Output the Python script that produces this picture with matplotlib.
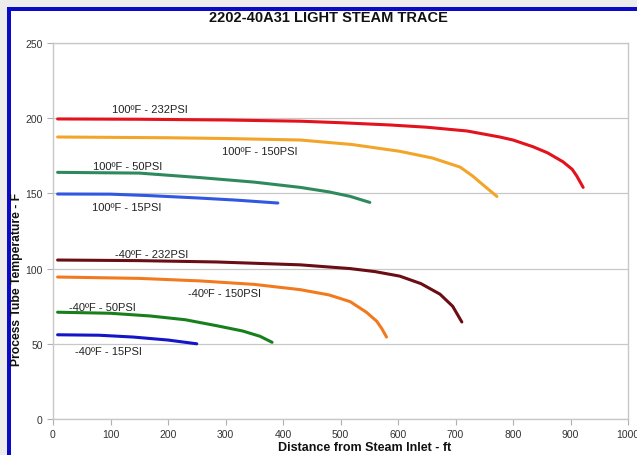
import matplotlib

matplotlib.use("Agg")
import matplotlib.pyplot as plt
from matplotlib.patches import Rectangle

plt.rcParams["font.family"] = ["Liberation Sans", "DejaVu Sans"]

# distance (ft) / temperature (F)
hot232_x = [8, 150, 300, 430, 500, 586, 650, 720, 777, 800, 835, 860, 887, 903, 911, 922]
hot232_y = [199.5, 199.3, 198.8, 198, 197, 195.5, 194, 191.5, 187.5, 185.5, 181, 177, 171, 166, 161.5, 154]
hot150_x = [8, 200, 300, 430, 520, 603, 660, 708, 730, 750, 772]
hot150_y = [187.5, 187, 186.5, 185.5, 182.5, 178, 173.5, 167.5, 161.5, 155, 148]
hot50_x = [8, 150, 256, 350, 430, 480, 517, 551]
hot50_y = [164, 163.5, 160.5, 157.5, 154, 151, 148, 144]
hot15_x = [8, 100, 169, 250, 320, 391]
hot15_y = [149.6, 149.5, 148.5, 147, 145.5, 143.6]

cold232_x = [8, 150, 285, 430, 517, 560, 603, 640, 673, 695, 711]
cold232_y = [105.7, 105.3, 104.4, 102.5, 100, 98, 95, 90, 83, 75, 64.5]
cold150_x = [8, 150, 256, 350, 430, 480, 517, 545, 563, 572, 580]
cold150_y = [94.4, 93.5, 91.8, 89.5, 86, 82.5, 78, 71, 65, 60, 54.5]
cold50_x = [8, 100, 169, 230, 285, 330, 360, 381]
cold50_y = [71, 70.3, 68.5, 66, 62, 58.5, 55, 51]
cold15_x = [8, 80, 139, 200, 250]
cold15_y = [56, 55.7, 54.5, 52.5, 50]

series = [
    (hot232_x, hot232_y, "#e3121c", "100ºF - 232PSI", 168, 206),
    (hot150_x, hot150_y, "#f3a52a", "100ºF - 150PSI", 359, 178),
    (hot50_x, hot50_y, "#2e8a5c", "100ºF - 50PSI", 129, 168),
    (hot15_x, hot15_y, "#3158e0", "100ºF - 15PSI", 129, 141),
    (cold232_x, cold232_y, "#6a0d14", "-40ºF - 232PSI", 172, 110),
    (cold150_x, cold150_y, "#f27a1e", "-40ºF - 150PSI", 299, 84),
    (cold50_x, cold50_y, "#17801c", "-40ºF - 50PSI", 86, 74.5),
    (cold15_x, cold15_y, "#1414c8", "-40ºF - 15PSI", 96, 45),
]

fig = plt.figure(figsize=(6.37, 4.56), dpi=100, facecolor="white")
ax = fig.add_axes([53 / 637, 36 / 456, 575 / 637, 376 / 456])

for xs, ys, colour, label, lx, ly in series:
    ax.plot(xs, ys, color=colour, lw=2.2, solid_capstyle="round", solid_joinstyle="round")
    ax.text(lx, ly, label, fontsize=8, color="#222222", ha="center", va="center")

ax.set_xlim(0, 1000)
ax.set_ylim(0, 250)
ax.set_xticks(range(0, 1001, 100))
ax.set_yticks(range(0, 251, 50))
ax.yaxis.grid(True, color="#c8c8c8", lw=0.9)
ax.set_axisbelow(True)
for side in ax.spines.values():
    side.set_color("#c8c8c8")
    side.set_linewidth(1.0)
ax.tick_params(colors="#b0b0b0", labelcolor="#333333", labelsize=7.5, length=4, width=0.8)

fig.text(328 / 637, 1 - 18 / 456, "2202-40A31 LIGHT STEAM TRACE",
         fontsize=10.5, fontweight="bold", color="#111111", ha="center", va="center")
fig.text(365 / 637, 1 - 448 / 456, "Distance from Steam Inlet - ft",
         fontsize=9, fontweight="bold", color="#111111", ha="center", va="center")
fig.text(17 / 637, 1 - 279 / 456, "Process Tube Temperature - F", rotation=90,
         fontsize=8.7, fontweight="bold", color="#111111", ha="center", va="center")

# page frame around the pasted chart
fig.add_artist(Rectangle((0, 0), 7 / 637, 1, transform=fig.transFigure,
                         facecolor="#ececec", edgecolor="none"))
fig.add_artist(Rectangle((0, 1 - 8 / 456), 1, 8 / 456, transform=fig.transFigure,
                         facecolor="#ececec", edgecolor="none"))
fig.add_artist(Rectangle((7 / 637, 0), 4 / 637, 1 - 8 / 456, transform=fig.transFigure,
                         facecolor="#0a0ac8", edgecolor="none"))
fig.add_artist(Rectangle((7 / 637, 1 - 12 / 456), 1, 4 / 456, transform=fig.transFigure,
                         facecolor="#0a0ac8", edgecolor="none"))

fig.savefig("out.png", dpi=100, facecolor=fig.get_facecolor())
